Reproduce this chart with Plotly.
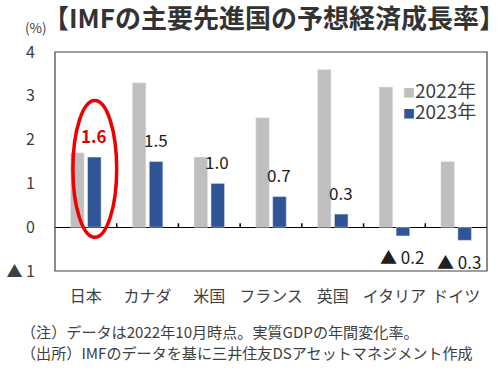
import plotly.graph_objects as go

categories = ["日本", "カナダ", "米国", "フランス", "英国", "イタリア", "ドイツ"]
y2022 = [1.7, 3.3, 1.6, 2.5, 3.6, 3.2, 1.5]
y2023 = [1.6, 1.5, 1.0, 0.7, 0.3, -0.2, -0.3]
series_names = ["2022年", "2023年"]
series_colors = ["#BFBFBF", "#2F5597"]
ytickvals = [4, 3, 2, 1, 0, -1]
yticktext = ["4", "3", "2", "1", "0", "▲ 1"]

FONT = "Noto Sans CJK JP, Noto Sans, sans-serif"
GRAY_TXT = "#404040"

def fmt(v):
    return ("▲ %.1f" % abs(v)) if v < 0 else ("%.1f" % v)

fig = go.Figure()
for name, vals, col in zip(series_names, [y2022, y2023], series_colors):
    fig.add_trace(go.Bar(name=name, x=categories, y=vals, marker_color=col,
                         showlegend=False))

annotations = []
for i, (c, v) in enumerate(zip(categories, y2023)):
    txt = fmt(v)
    color = "#202020"
    if i == 0:
        txt = "<b>" + txt + "</b>"
        color = "#E00000"
    annotations.append(dict(x=c, y=v, xref="x", yref="y", text=txt, showarrow=False,
                            yshift=22 if v >= 0 else -21,
                            xshift=3 if i == len(categories) - 1 else 8,
                            font=dict(size=17, color=color, family=FONT)))

# manual legend
for k, (name, col) in enumerate(zip(series_names, series_colors)):
    annotations.append(dict(
        x=0.801, y=0.83 - 0.096 * k, xref="paper", yref="paper",
        xanchor="left", yanchor="middle", showarrow=False, height=20,
        text="<span style='color:%s;font-size:12px'>■</span>%s" % (col, name),
        font=dict(size=19, color=GRAY_TXT, family=FONT)))

annotations += [
    dict(x=-0.032, y=1.16, xref="paper", yref="paper", xanchor="left", yanchor="middle",
         text="<b>【IMFの主要先進国の予想経済成長率】</b>", showarrow=False,
         width=458, align="left",
         font=dict(size=26, color="#333333", family=FONT)),
    dict(x=-0.074, y=1.114, xref="paper", yref="paper", xanchor="left", yanchor="middle",
         text="(%)", showarrow=False, font=dict(size=13.5, color=GRAY_TXT, family=FONT)),
    dict(x=-0.083, y=-0.274, xref="paper", yref="paper", xanchor="left", yanchor="middle",
         text="（注）データは2022年10月時点。実質GDPの年間変化率。", showarrow=False,
         font=dict(size=15.1, color=GRAY_TXT, family=FONT)),
    dict(x=-0.083, y=-0.368, xref="paper", yref="paper", xanchor="left", yanchor="middle",
         text="（出所）IMFのデータを基に三井住友DSアセットマネジメント作成", showarrow=False,
         font=dict(size=15.1, color=GRAY_TXT, family=FONT)),
]

shapes = [
    dict(type="rect", xref="paper", yref="paper", x0=0, x1=1, y0=0, y1=1,
         line=dict(color="#404040", width=1.2), layer="above"),
    dict(type="circle", xref="x", yref="y", x0=-0.21, x1=0.5, y0=-0.23, y1=2.89,
         line=dict(color="#EE0000", width=3.5)),
]
for i in range(len(categories) - 1):
    shapes.append(dict(type="line", xref="x", yref="y", x0=i + 0.5, x1=i + 0.5,
                       y0=0, y1=0.09, line=dict(color="#000000", width=1.5)))

fig.update_layout(
    width=500, height=374,
    margin=dict(l=55, r=13, t=52, b=103, autoexpand=False),
    plot_bgcolor="white", paper_bgcolor="white",
    barmode="group", bargap=0.45, bargroupgap=0.2,
    font=dict(family=FONT, color=GRAY_TXT),
    showlegend=False,
    annotations=annotations,
    shapes=shapes,
    xaxis=dict(showline=False, ticks="", automargin=False,
               tickfont=dict(size=16, color=GRAY_TXT), ticklabelstandoff=14),
    yaxis=dict(range=[-1, 4], tickvals=ytickvals, ticktext=yticktext, showgrid=False,
               showline=False, zeroline=True, zerolinecolor="#000000", zerolinewidth=1,
               automargin=False,
               ticks="", tickfont=dict(size=16, color=GRAY_TXT), ticklabelstandoff=19),
)

fig.write_html("out.html", config={"displayModeBar": False},
               post_script="document.body.style.margin='0';document.body.style.padding='0';")
